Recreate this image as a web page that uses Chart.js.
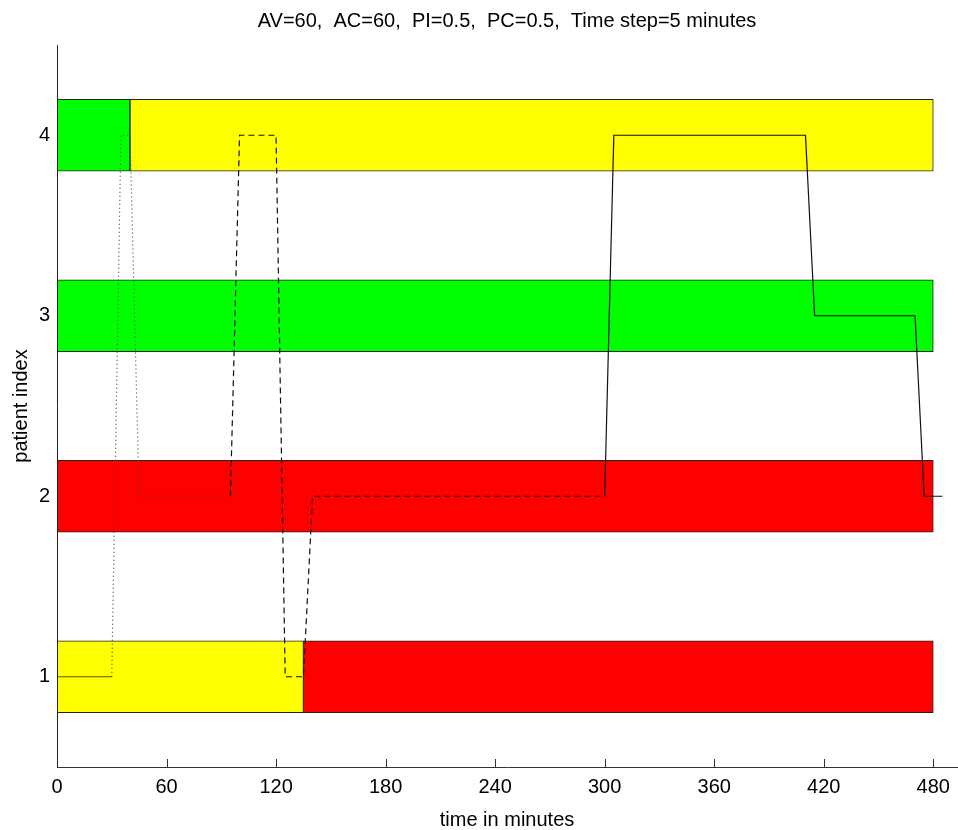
<!DOCTYPE html>
<html>
<head>
<meta charset="utf-8">
<script src="https://cdn.jsdelivr.net/npm/chart.js@4.4.1/dist/chart.umd.min.js"></script>
<style>
  html, body { margin: 0; padding: 0; background: #fff; }
  #wrap { width: 958px; height: 830px; }
</style>
</head>
<body>
<div id="wrap"><canvas id="chart" width="958" height="830"></canvas></div>
<script>
// タイトルと軸
const chartTitle = 'AV=60,  AC=60,  PI=0.5,  PC=0.5,  Time step=5 minutes';
const xTitle = 'time in minutes';
const yTitle = 'patient index';
const xTicks = [0, 60, 120, 180, 240, 300, 360, 420, 480];
const yTicks = [1, 2, 3, 4];

// 状態バー (患者ごと, 開始/終了 分)
const barPatient = [4, 4, 3, 2, 1, 1];
const barFrom = [0, 40, 0, 0, 0, 135];
const barTo = [40, 480, 480, 480, 135, 480];
const barState = ['green', 'yellow', 'green', 'red', 'yellow', 'red'];

// 巡回ライン (点線 / 破線 / 実線)
const dottedTime = [0, 30, 35, 40, 45, 95];
const dottedPatient = [1, 1, 4, 4, 2, 2];
const dashedTime = [95, 100, 120, 125, 135, 140, 300];
const dashedPatient = [2, 4, 4, 1, 1, 2, 2];
const solidTime = [300, 305, 410, 415, 470, 475, 485];
const solidPatient = [2, 4, 4, 3, 3, 2, 2];

const stateColors = { green: '#00ff00', yellow: '#ffff00', red: '#ff0000' };
const FONT = "'Liberation Sans', Arial, sans-serif";

const toPoints = (xs, ys) => xs.map((x, i) => ({ x: x, y: ys[i] }));

// x軸の内向き目盛り
const innerTicks = {
    id: 'innerTicks',
    afterDatasetsDraw(chart) {
        const sx = chart.scales.x;
        const ctx = chart.ctx;
        ctx.save();
        ctx.strokeStyle = '#333';
        ctx.lineWidth = 1;
        sx.ticks.forEach(t => {
            const px = Math.round(sx.getPixelForValue(t.value)) + 0.5;
            ctx.beginPath();
            ctx.moveTo(px, sx.top);
            ctx.lineTo(px, sx.top - 8);
            ctx.stroke();
        });
        ctx.restore();
    }
};

const lineStyle = {
    type: 'line',
    borderColor: '#111',
    borderWidth: 1.2,
    pointRadius: 0,
    tension: 0,
    fill: false,
    order: 0
};

new Chart(document.getElementById('chart').getContext('2d'), {
    type: 'line',
    data: {
        datasets: [
            Object.assign({}, lineStyle, {
                data: toPoints(dottedTime, dottedPatient),
                borderColor: '#444',
                // 最初の水平部分だけ実線
                segment: {
                    borderDash: c => c.p0DataIndex === 0 ? [] : [1, 3],
                    borderColor: c => c.p0DataIndex === 0 ? '#555500' : '#444'
                }
            }),
            Object.assign({}, lineStyle, { data: toPoints(dashedTime, dashedPatient), borderDash: [6, 4] }),
            Object.assign({}, lineStyle, { data: toPoints(solidTime, solidPatient) }),
            {
                type: 'bar',
                indexAxis: 'y',
                data: barPatient.map((p, i) => ({ x: [barFrom[i], barTo[i]], y: p })),
                backgroundColor: barState.map(s => stateColors[s]),
                borderColor: '#222',
                borderWidth: 1,
                borderSkipped: false,
                barThickness: 72,
                order: 1
            }
        ]
    },
    options: {
        responsive: false,
        animation: false,
        events: [],
        layout: { padding: 0 },
        plugins: {
            legend: { display: false },
            tooltip: { enabled: false },
            title: {
                display: true,
                text: chartTitle,
                fullSize: false,
                color: '#000',
                font: { family: FONT, size: 20, weight: 'normal', lineHeight: 1.2 },
                padding: { top: 9, bottom: 12 }
            }
        },
        scales: {
            x: {
                type: 'linear',
                min: 0,
                max: 493,
                offset: false,
                afterBuildTicks: s => { s.ticks = xTicks.map(v => ({ value: v })); },
                afterFit: s => { s.height = 63; },
                grid: { display: false, drawTicks: false },
                border: { display: true, color: '#333', width: 1, z: 1 },
                ticks: {
                    padding: 8,
                    maxRotation: 0,
                    autoSkip: false,
                    color: '#000',
                    font: { family: FONT, size: 20 }
                },
                title: {
                    display: true,
                    text: xTitle,
                    color: '#000',
                    font: { family: FONT, size: 20, lineHeight: 1 },
                    padding: { top: 0, bottom: 0 }
                }
            },
            y: {
                type: 'linear',
                min: 0.5,
                max: 4.5,
                offset: false,
                afterBuildTicks: s => { s.ticks = yTicks.map(v => ({ value: v })); },
                afterFit: s => { s.width = 57; },
                grid: { display: false, drawTicks: false },
                border: { display: true, color: '#222', width: 1, z: 1 },
                ticks: {
                    padding: 7,
                    color: '#000',
                    font: { family: FONT, size: 20 }
                },
                title: {
                    display: true,
                    text: yTitle,
                    color: '#000',
                    font: { family: FONT, size: 20, lineHeight: 1.2 },
                    padding: { top: 9, bottom: 0 }
                }
            }
        }
    },
    plugins: [innerTicks]
});
</script>
</body>
</html>
